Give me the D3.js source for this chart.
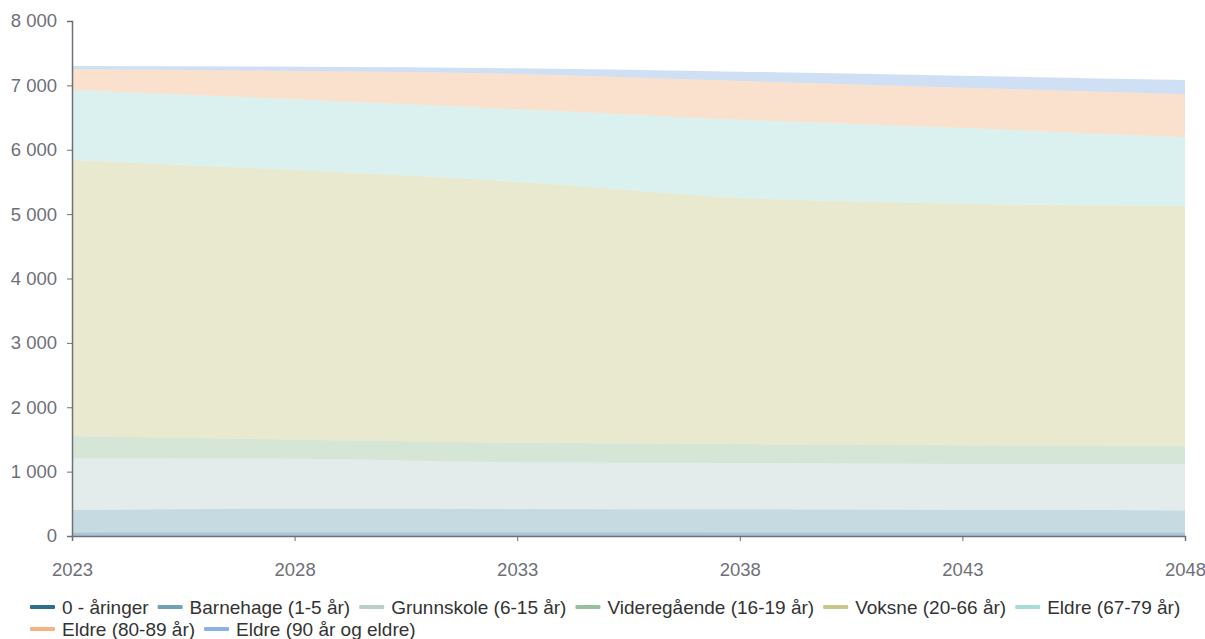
<!DOCTYPE html>
<html>
<head>
<meta charset="utf-8">
<script src="https://cdn.jsdelivr.net/npm/d3@7"></script>
<style>
    body { margin: 0; background: #fff; }
    svg { display: block; font-family: "Liberation Sans", Arial, sans-serif; }
</style>
</head>
<body>
<svg width="1205" height="639"></svg>
<script>
// years on the x axis
const years = [2023, 2028, 2033, 2038, 2043, 2048];

// series
const seriesNames = [
    "0 - åringer",
    "Barnehage (1-5 år)",
    "Grunnskole (6-15 år)",
    "Videregående (16-19 år)",
    "Voksne (20-66 år)",
    "Eldre (67-79 år)",
    "Eldre (80-89 år)",
    "Eldre (90 år og eldre)"
];
const nullaringer   = [55, 57, 57, 56, 55, 54];
const barnehage     = [349, 367, 362, 359, 354, 342];
const grunnskole    = [803, 777, 726, 719, 709, 722];
const videregaende  = [346, 295, 304, 295, 291, 285];
const voksne        = [4288, 4189, 4055, 3826, 3753, 3728];
const eldre67       = [1087, 1099, 1124, 1212, 1176, 1062];
const eldre80       = [322, 439, 549, 601, 626, 668];
const eldre90       = [51, 67, 88, 145, 187, 223];

const yTicks = [0, 1000, 2000, 3000, 4000, 5000, 6000, 7000, 8000];

const colors = ["#2e6f8e", "#6ea3b5", "#b9cfcc", "#97c19c", "#c8c78a", "#a6dcd6", "#f3b383", "#8ab2e3"];

const seriesValues = [nullaringer, barnehage, grunnskole, videregaende, voksne, eldre67, eldre80, eldre90];

// build table for d3.stack
const table = years.map((yr, i) => {
    const row = { year: yr };
    seriesNames.forEach((name, s) => { row[name] = seriesValues[s][i]; });
    return row;
});

const svg = d3.select("svg");
const plotLeft = 72, plotRight = 1185, plotTop = 21, plotBottom = 536;

const x = d3.scaleLinear().domain([2023, 2048]).range([plotLeft, plotRight]);
const y = d3.scaleLinear().domain([0, 8000]).range([plotBottom, plotTop]);

const stacked = d3.stack().keys(seriesNames)(table);

const area = d3.area()
    .x(d => x(d.data.year))
    .y0(d => y(d[0]))
    .y1(d => y(d[1]))
    .curve(d3.curveMonotoneX);

svg.append("g")
    .selectAll("path")
    .data(stacked)
    .enter()
    .append("path")
    .attr("d", area)
    .attr("fill", (d, i) => colors[i])
    .attr("fill-opacity", 0.4);

// axes
const locale = d3.formatLocale({ decimal: ",", thousands: " ", grouping: [3], currency: ["", ""] });
const fmt = locale.format(",d");
const axisColor = "#6e7079";

const yAxis = svg.append("g")
    .attr("transform", `translate(${plotLeft},0)`)
    .call(d3.axisLeft(y).tickValues(yTicks).tickFormat(fmt).tickSize(5).tickPadding(10));

const xAxis = svg.append("g")
    .attr("transform", `translate(0,${plotBottom})`)
    .call(d3.axisBottom(x).tickValues(years).tickFormat(d3.format("d")).tickSize(5).tickPadding(22));

[yAxis, xAxis].forEach(g => {
    g.select(".domain").attr("stroke", axisColor).attr("stroke-width", 1.5);
    g.selectAll(".tick line").attr("stroke", axisColor);
    g.selectAll(".tick text")
        .attr("fill", axisColor)
        .style("font-size", "18.5px")
        .style("font-family", "'Liberation Sans', Arial, sans-serif");
});

// legend, flowing left to right and wrapping
const legend = svg.append("g");
let lx = 30, ly = 607;
const maxX = 1200;
seriesNames.forEach((name, i) => {
    const item = legend.append("g");
    item.append("rect")
        .attr("x", 0).attr("y", -2)
        .attr("width", 25).attr("height", 4)
        .attr("rx", 1)
        .attr("fill", colors[i]);
    const t = item.append("text")
        .attr("x", 32).attr("y", 0)
        .attr("dy", "0.35em")
        .attr("fill", "#333")
        .style("font-size", "19px")
        .text(name);
    const w = 32 + t.node().getComputedTextLength();
    if (lx + w > maxX) {
        lx = 30;
        ly += 22;
    }
    item.attr("transform", `translate(${lx},${ly})`);
    lx += w + 9;
});
</script>
</body>
</html>
